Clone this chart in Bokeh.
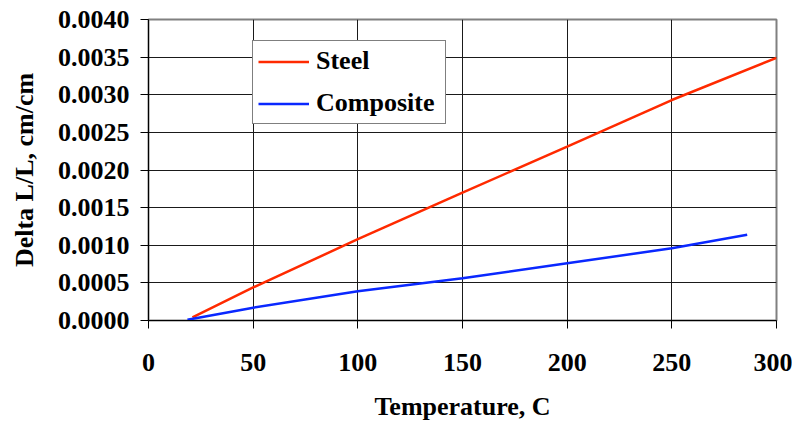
from bokeh.plotting import figure
from bokeh.models import Range1d, FixedTicker, NumeralTickFormatter, Legend, LegendItem
from bokeh.embed import file_html
from bokeh.resources import INLINE

# ---- data ----
steel_temp = [21, 50, 100, 150, 200, 250, 300]
steel_dll = [0.00004, 0.00044, 0.00108, 0.00170, 0.00231, 0.00293, 0.00349]
comp_temp = [18.6, 50, 100, 150, 200, 250, 286]
comp_dll = [0.00001, 0.00017, 0.00039, 0.00056, 0.00076, 0.00096, 0.00114]
x_ticks = [0, 50, 100, 150, 200, 250, 300]
y_ticks = [0.0, 0.0005, 0.0010, 0.0015, 0.0020, 0.0025, 0.0030, 0.0035, 0.0040]
series_names = ["Steel", "Composite"]
x_title = "Temperature, C"
y_title = "Delta L/L, cm/cm"

FONT = "'Liberation Serif', 'Times New Roman', serif"

p = figure(width=792, height=429, output_backend="svg", toolbar_location=None,
           x_range=Range1d(0, 300), y_range=Range1d(0, 0.004),
           min_border_left=148, min_border_right=16, min_border_top=19, min_border_bottom=109)

p.background_fill_color = "white"
p.border_fill_color = "white"
p.outline_line_color = "#808080"
p.outline_line_width = 2

r1 = p.line(steel_temp, steel_dll, line_color="#FF2A00", line_width=2.5)
r2 = p.line(comp_temp, comp_dll, line_color="#0A28FF", line_width=2.5)

for ax in (p.xaxis[0], p.yaxis[0]):
    ax.axis_line_color = "black"
    ax.axis_line_width = 1
    ax.major_tick_line_color = "black"
    ax.major_tick_out = 8
    ax.major_tick_in = 0
    ax.minor_tick_line_color = None
    ax.major_label_text_font = FONT
    ax.major_label_text_font_style = "bold"
    ax.major_label_text_font_size = "26px"
    ax.major_label_text_color = "black"
    ax.axis_label_text_font = FONT
    ax.axis_label_text_font_style = "bold"
    ax.axis_label_text_font_size = "26px"
    ax.axis_label_text_color = "black"

p.xaxis.ticker = FixedTicker(ticks=x_ticks)
p.yaxis.ticker = FixedTicker(ticks=y_ticks)
p.yaxis.formatter = NumeralTickFormatter(format="0.0000")
p.xaxis.axis_label = x_title
p.yaxis.axis_label = y_title
p.xaxis.major_label_standoff = 25
p.yaxis.major_label_standoff = 11
p.xaxis.axis_label_standoff = 18
p.yaxis.axis_label_standoff = 16

p.xgrid.ticker = FixedTicker(ticks=x_ticks)
p.ygrid.ticker = FixedTicker(ticks=y_ticks)
for g in (p.xgrid[0], p.ygrid[0]):
    g.grid_line_color = "#1a1a1a"
    g.grid_line_width = 1

legend = Legend(items=[LegendItem(label=series_names[0], renderers=[r1]),
                       LegendItem(label=series_names[1], renderers=[r2])],
                location=(104, 196))
legend.border_line_color = "black"
legend.border_line_width = 1
legend.background_fill_color = "white"
legend.background_fill_alpha = 1
legend.label_text_font = FONT
legend.label_text_font_style = "bold"
legend.label_text_font_size = "26px"
legend.label_text_color = "black"
legend.glyph_width = 51
legend.glyph_height = 25
legend.label_standoff = 7
legend.label_width = 124
legend.padding = 5
legend.spacing = 12
legend.margin = 0
p.add_layout(legend, "center")

open("out.html", "w").write(file_html(p, INLINE))
